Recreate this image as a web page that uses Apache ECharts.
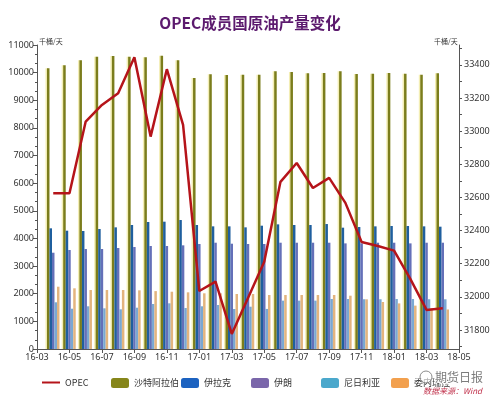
<!DOCTYPE html>
<html>
<head>
<meta charset="utf-8">
<script src="https://cdn.jsdelivr.net/npm/echarts@6/dist/echarts.min.js"></script>
<style>
  html, body { margin: 0; padding: 0; background: #fff; }
  #chart { width: 500px; height: 398px; }
</style>
</head>
<body>
<div id="chart"></div>
<script>
// monthly data, 2016-03 .. 2018-03 (thousand barrels / day)
const months = ['2016-03','2016-04','2016-05','2016-06','2016-07','2016-08','2016-09','2016-10','2016-11','2016-12',
  '2017-01','2017-02','2017-03','2017-04','2017-05','2017-06','2017-07','2017-08','2017-09','2017-10',
  '2017-11','2017-12','2018-01','2018-02','2018-03'];

const opec = [32625, 32625, 33058, 33158, 33229, 33446, 32967, 33374, 33038, 32035,
  32092, 31776, 31993, 32211, 32694, 32808, 32657, 32718, 32567, 32331,
  32307, 32279, 32108, 31921, 31931];
const saudi = [10155, 10264, 10445, 10575, 10600, 10575, 10553, 10611, 10445, 9805,
  9938, 9913, 9924, 9924, 10047, 10022, 9975, 9986, 10047, 9949,
  9960, 9986, 9960, 9924, 9975];
const iraq = [4367, 4281, 4269, 4342, 4402, 4486, 4595, 4607, 4667, 4486,
  4438, 4438, 4402, 4462, 4510, 4486, 4486, 4522, 4390, 4414,
  4438, 4450, 4450, 4438, 4426];
const iran = [3484, 3582, 3618, 3618, 3654, 3690, 3727, 3727, 3751, 3799,
  3846, 3810, 3799, 3800, 3846, 3846, 3846, 3846, 3822, 3822,
  3846, 3846, 3822, 3846, 3846];
const nigeria = [1690, 1458, 1545, 1472, 1436, 1494, 1628, 1653, 1483, 1545,
  1592, 1447, 1530, 1450, 1750, 1750, 1750, 1810, 1810, 1800,
  1800, 1810, 1810, 1800, 1800];
const venezuela = [2254, 2196, 2134, 2134, 2134, 2123, 2095, 2073, 2051, 2015,
  2015, 1990, 1990, 1954, 1954, 1954, 1954, 1954, 1929, 1797,
  1700, 1650, 1570, 1480, 1430];

const legendNames = ['OPEC', '沙特阿拉伯', '伊拉克', '伊朗', '尼日利亚', '委内瑞拉'];
const legendColors = [null, '#86861a', '#1c62c0', '#7a66aa', '#4ba8cc', '#f2a04e'];
const rightLabels = [31800, 32000, 32200, 32400, 32600, 32800, 33000, 33200, 33400];
const rightTicks = [31700, 31800, 31900, 32000, 32100, 32200, 32300, 32400, 32500, 32600,
  32700, 32800, 32900, 33000, 33100, 33200, 33300, 33400, 33500];

// x axis counts months from 2016-03-01; values are month-end, so +1
const monthPos = m => {
  const [y, mo] = m.split('-').map(Number);
  return (y - 2016) * 12 + (mo - 3) + 1;
};
const xs = months.map(monthPos);
const pair = arr => arr.map((v, i) => [xs[i], v]);

const monthLabel = idx => {
  const total = 2 + idx; // 2016-03 => month index 2
  const y = 2016 + Math.floor(total / 12);
  const m = total % 12 + 1;
  return String(y).slice(2) + '-' + String(m).padStart(2, '0');
};

const chart = echarts.init(document.getElementById('chart'));

const barSeries = (name, data, color, extra) => ({
  name: name,
  type: 'bar',
  data: pair(data),
  barWidth: 2.5,
  barGap: '0%',
  itemStyle: Object.assign({ color: color }, extra || {}),
  animation: false
});

// one legend per item so they sit on a fixed 70px pitch
const legends = legendNames.map((n, k) => ({
  left: 36 + 70 * k,
  top: 373,
  itemWidth: 18,
  itemHeight: 10,
  textStyle: { fontSize: 9, color: '#333', fontFamily: 'Noto Sans CJK SC' },
  data: [k === 0 ? { name: n, itemStyle: { opacity: 0 } } : { name: n, itemStyle: { color: legendColors[k] } }]
}));

chart.setOption({
  backgroundColor: '#fff',
  animation: false,
  title: {
    text: 'OPEC成员国原油产量变化',
    left: 'center',
    top: 10,
    textStyle: { color: '#5c1a6e', fontSize: 15.5, fontWeight: 'bold', fontFamily: 'Noto Sans CJK SC' }
  },
  grid: { left: 37, right: 41, top: 45, bottom: 49 },
  legend: legends,
  xAxis: {
    type: 'value',
    min: 0,
    max: 26,
    interval: 2,
    splitLine: { show: false },
    axisLine: { lineStyle: { color: '#555' } },
    axisTick: { show: true, length: 4, lineStyle: { color: '#555' } },
    axisLabel: { fontSize: 9, color: '#333', margin: 4, formatter: v => monthLabel(v), fontFamily: 'Noto Sans' }
  },
  yAxis: [
    {
      type: 'value',
      min: 0,
      max: 11000,
      interval: 1000,
      splitLine: { show: false },
      axisLine: { show: true, lineStyle: { color: '#555' } },
      axisTick: { show: true, length: 4, lineStyle: { color: '#555' } },
      minorTick: { show: true, splitNumber: 3, length: 2, lineStyle: { color: '#555' } },
      axisLabel: { fontSize: 9, color: '#333', margin: 3, formatter: v => String(v), fontFamily: 'Noto Sans' }
    },
    {
      type: 'value',
      position: 'right',
      min: 31685,
      max: 33520,
      splitLine: { show: false },
      axisLine: { show: true, lineStyle: { color: '#555' } },
      axisTick: { show: true, length: 3, customValues: rightTicks, lineStyle: { color: '#555' } },
      axisLabel: { fontSize: 9, color: '#333', margin: 5, customValues: rightLabels, formatter: v => String(v), fontFamily: 'Noto Sans' }
    }
  ],
  graphic: [
    { type: 'text', left: 39, top: 38, style: { text: '千桶/天', fontSize: 7, fill: '#333', fontFamily: 'Noto Sans CJK SC' } },
    { type: 'text', left: 434, top: 38, style: { text: '千桶/天', fontSize: 7, fill: '#333', fontFamily: 'Noto Sans CJK SC' } },
    { type: 'circle', z: 100, shape: { cx: 426, cy: 377, r: 6 }, style: { fill: 'rgba(255,255,255,0.6)', stroke: 'rgba(120,120,120,0.85)', lineWidth: 1 } },
    { type: 'text', left: 434, top: 370, z: 100, style: { text: '期货日报', fontSize: 12, fill: 'rgba(110,110,110,0.9)', stroke: '#fff', lineWidth: 2, fontFamily: 'Noto Sans CJK SC' } },
    { type: 'text', left: 423, top: 387, style: { text: '数据来源：Wind', fontSize: 8, fill: '#c0304a', fontStyle: 'italic', fontFamily: 'Noto Sans CJK SC' } }
  ],
  series: [
    barSeries('沙特阿拉伯', saudi, '#7b7d1c', { shadowColor: '#f3eeb4', shadowOffsetX: -1.5, shadowBlur: 0 }),
    barSeries('伊拉克', iraq, '#1f5f9e'),
    barSeries('伊朗', iran, '#6470b8'),
    barSeries('尼日利亚', nigeria, '#7aa8d2'),
    barSeries('委内瑞拉', venezuela, '#e3b47e'),
    {
      name: 'OPEC',
      type: 'line',
      yAxisIndex: 1,
      data: pair(opec),
      showSymbol: false,
      symbol: 'none',
      z: 10,
      lineStyle: { color: '#b5141a', width: 2.5 },
      itemStyle: { color: '#b5141a' }
    }
  ]
});
</script>
</body>
</html>
